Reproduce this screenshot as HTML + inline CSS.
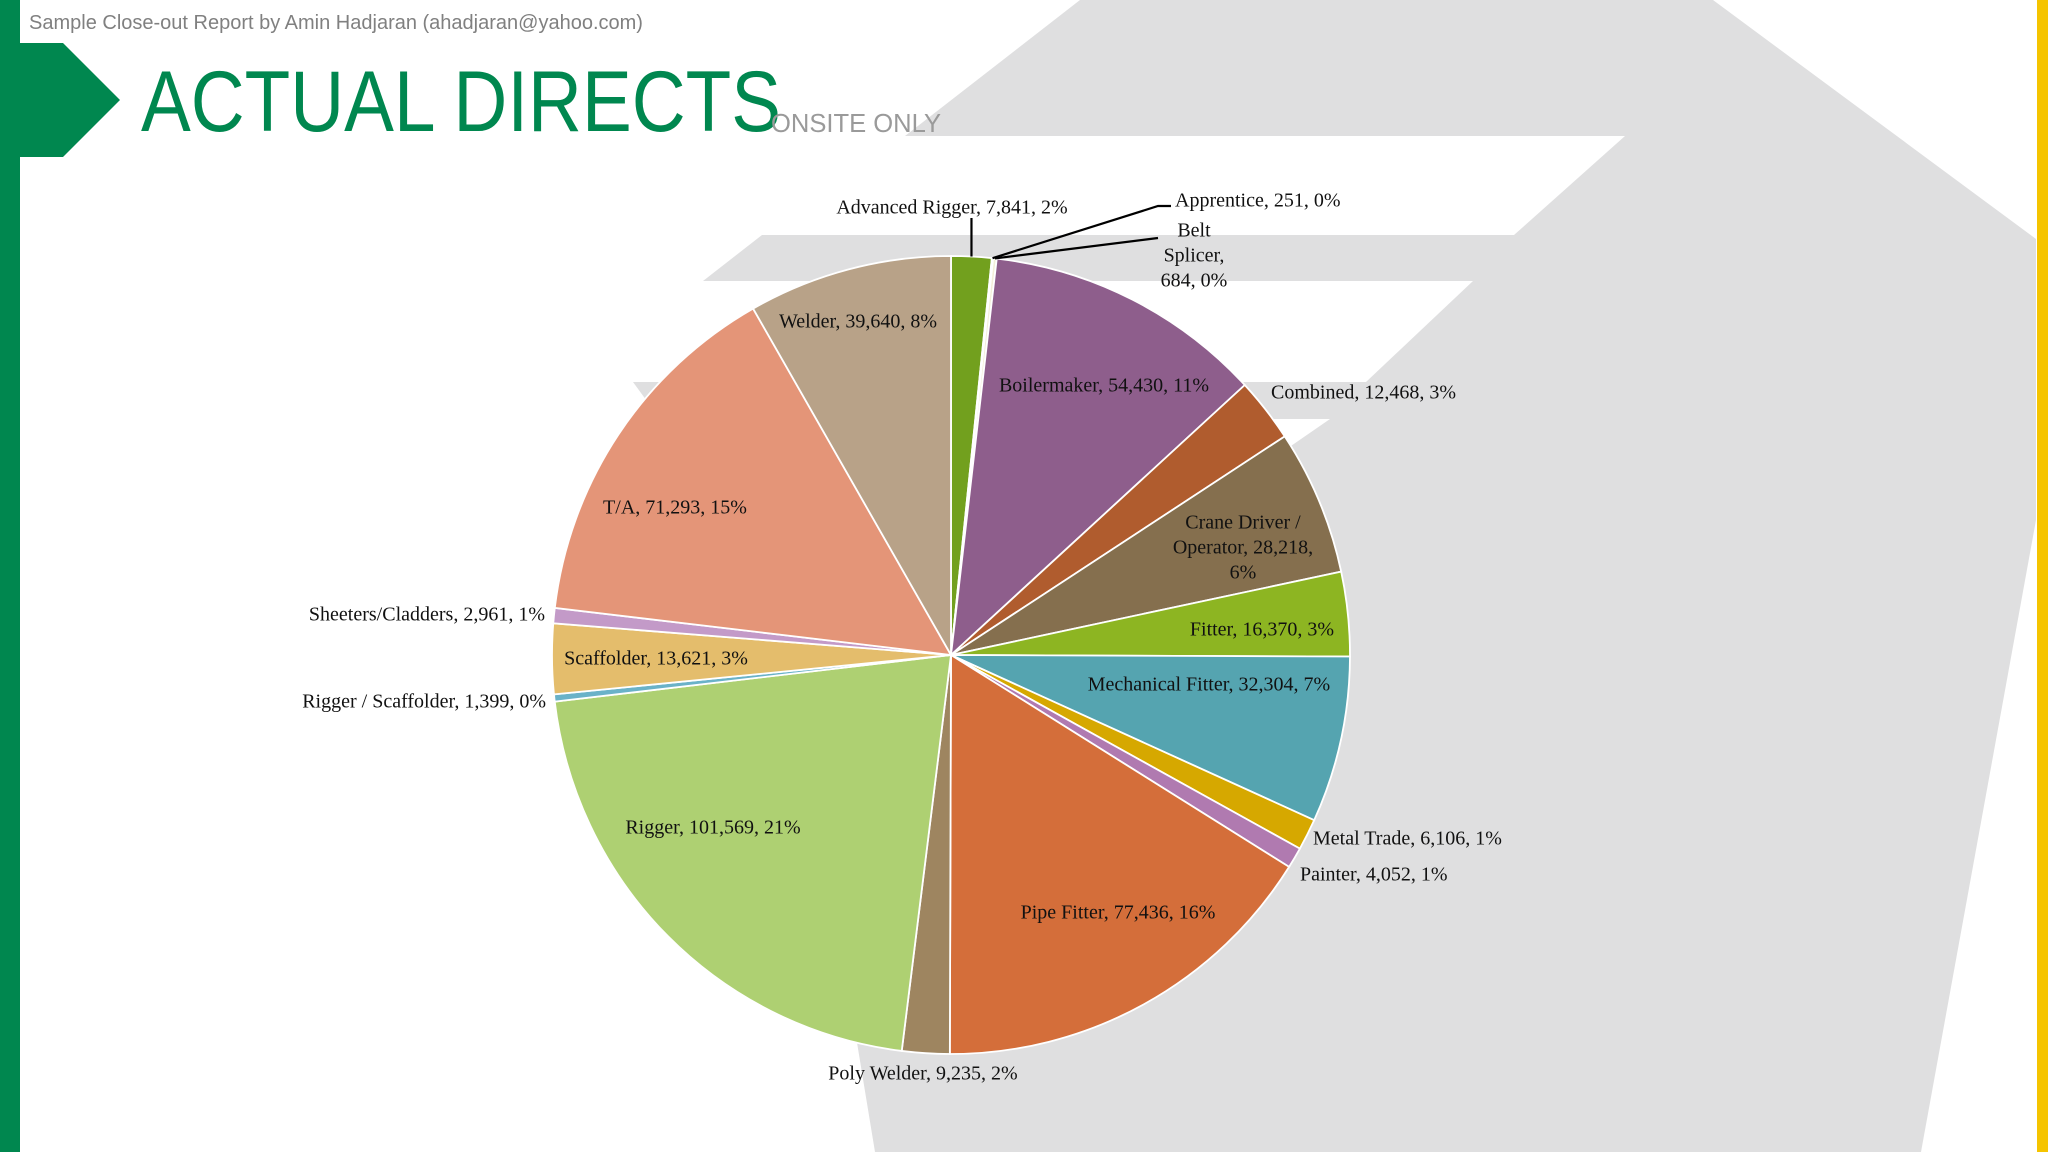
<!DOCTYPE html>
<html>
<head>
<meta charset="utf-8">
<style>
  html,body{margin:0;padding:0;background:#fff;}
  svg{display:block;}
  .lbl{font-family:"Liberation Serif",serif;font-size:20px;fill:#111;}
</style>
</head>
<body>
<svg id="chart" width="2048" height="1152" viewBox="0 0 2048 1152" xmlns="http://www.w3.org/2000/svg">
  <g>
    <polygon fill="#dfdfe0" points="1080,0 1713,0 2036,239 2036,520 1921,1152 875,1152 850,1000 900,600 905,136"/>
    <polygon fill="#fff" points="0,136 1625,136 1514,235 0,235"/>
    <polygon fill="#dfdfe0" points="762,235 1560,235 1520,281 703,281"/>
    <polygon fill="#fff" points="0,281 1473,281 1366,382 0,382"/>
    <polygon fill="#dfdfe0" points="633,382 1400,382 1360,419 660,419"/>
    <polygon fill="#fff" points="0,419 1330,419 1288,448 880,820 845,1152 0,1152"/>
  </g>
  <rect x="0" y="0" width="20" height="1152" fill="#00874f"/>
  <polygon fill="#00874f" points="20,43 63,43 120,100 63,157 20,157"/>
  <rect x="2037" y="0" width="11" height="1152" fill="#f5c400"/>
  <text x="29" y="29" font-family="Liberation Sans, sans-serif" font-size="20" fill="#808080">Sample Close-out Report by Amin Hadjaran (ahadjaran@yahoo.com)</text>
  <text x="141" y="131" font-family="Liberation Sans, sans-serif" font-size="86" fill="#00874f" textLength="640" lengthAdjust="spacingAndGlyphs">ACTUAL DIRECTS</text>
  <text x="771" y="132" font-family="Liberation Sans, sans-serif" font-size="26" fill="#9a9a9a" textLength="170" lengthAdjust="spacingAndGlyphs">ONSITE ONLY</text>
  <g id="pie"></g>
  <g id="labels"></g>
</svg>
<script>
const categories = ["Advanced Rigger","Apprentice","Belt Splicer","Boilermaker","Combined","Crane Driver / Operator","Fitter","Mechanical Fitter","Metal Trade","Painter","Pipe Fitter","Poly Welder","Rigger","Rigger / Scaffolder","Scaffolder","Sheeters/Cladders","T/A","Welder"];
const values = [7841,251,684,54430,12468,28218,16370,32304,6106,4052,77436,9235,101569,1399,13621,2961,71293,39640];
const valueLabels = ["7,841","251","684","54,430","12,468","28,218","16,370","32,304","6,106","4,052","77,436","9,235","101,569","1,399","13,621","2,961","71,293","39,640"];
const colors = ["#72a01e","#e2c23a","#f3efd8","#8e5e8c","#b05c2e","#856f4e","#8db522","#55a4b0","#d6a800","#b07ab0","#d46e3a","#9e8560","#aed072","#6ab2c8","#e4bd6c","#c39ac8","#e49578","#b8a288"];

const cx = 951, cy = 655, R = 399;
const NS = "http://www.w3.org/2000/svg";
const total = values.reduce((a,b)=>a+b,0);
function angleAt(v){ return v/total*2*Math.PI; }
function pt(a,r){ return [cx + r*Math.sin(a), cy - r*Math.cos(a)]; }

const pie = document.getElementById('pie');
let acc = 0;
const mids = [];
values.forEach((v,i)=>{
  const a0 = angleAt(acc), a1 = angleAt(acc+v);
  acc += v;
  mids.push((a0+a1)/2);
  const p0 = pt(a0,R), p1 = pt(a1,R);
  const large = (a1-a0) > Math.PI ? 1 : 0;
  const path = document.createElementNS(NS,'path');
  path.setAttribute('d',`M${cx},${cy} L${p0[0]},${p0[1]} A${R},${R} 0 ${large} 1 ${p1[0]},${p1[1]} Z`);
  path.setAttribute('fill',colors[i]);
  path.setAttribute('stroke','#fff');
  path.setAttribute('stroke-width','1.8');
  
  
  pie.appendChild(path);
});

// label placement (layout only): [x, y, anchor, lines-mode]
const labelPos = [
  [952,209,'middle'],[1175,202,'start'],[1194,232,'middle'],[1104,387,'middle'],
  [1271,394,'start'],[1243,524,'middle'],[1262,631,'middle'],[1209,686,'middle'],
  [1313,840,'start'],[1300,876,'start'],[1118,914,'middle'],[923,1075,'middle'],
  [713,829,'middle'],[546,703,'end'],[656,660,'middle'],[545,616,'end'],
  [675,509,'middle'],[858,323,'middle']
];
const labelsG = document.getElementById('labels');
values.forEach((v,i)=>{
  const pct = Math.round(v/total*100)+'%';
  const full = categories[i]+', '+valueLabels[i]+', '+pct;
  let lines = [full];
  if(i===2) lines = ['Belt','Splicer,',valueLabels[i]+', '+pct];
  if(i===5) lines = ['Crane Driver /','Operator, '+valueLabels[i]+',',pct];
  const [x,y,anchor] = labelPos[i];
  const t = document.createElementNS(NS,'text');
  t.setAttribute('class','lbl');
  t.setAttribute('text-anchor',anchor);
  
  
  lines.forEach((ln,k)=>{
    const ts = document.createElementNS(NS,'tspan');
    ts.setAttribute('x',x);
    ts.setAttribute('y',y + k*25);
    ts.setAttribute('dominant-baseline','middle');
    ts.textContent = ln;
    t.appendChild(ts);
  });
  labelsG.appendChild(t);
});

// leader lines for the small top slices
function leader(i, pts, name){
  const edge = pt(mids[i], R);
  const pl = document.createElementNS(NS,'polyline');
  pl.setAttribute('points', [edge].concat(pts).map(p=>p.join(',')).join(' '));
  pl.setAttribute('fill','none');
  pl.setAttribute('stroke','#000');
  pl.setAttribute('stroke-width','2.2');
  
  
  labelsG.appendChild(pl);
}
leader(0, [[pt(mids[0],R)[0],218]], 'leader-advanced-rigger');
leader(1, [[1158,206],[1171,206]], 'leader-apprentice');
leader(2, [[1158,238]], 'leader-belt-splicer');
</script>
</body>
</html>
